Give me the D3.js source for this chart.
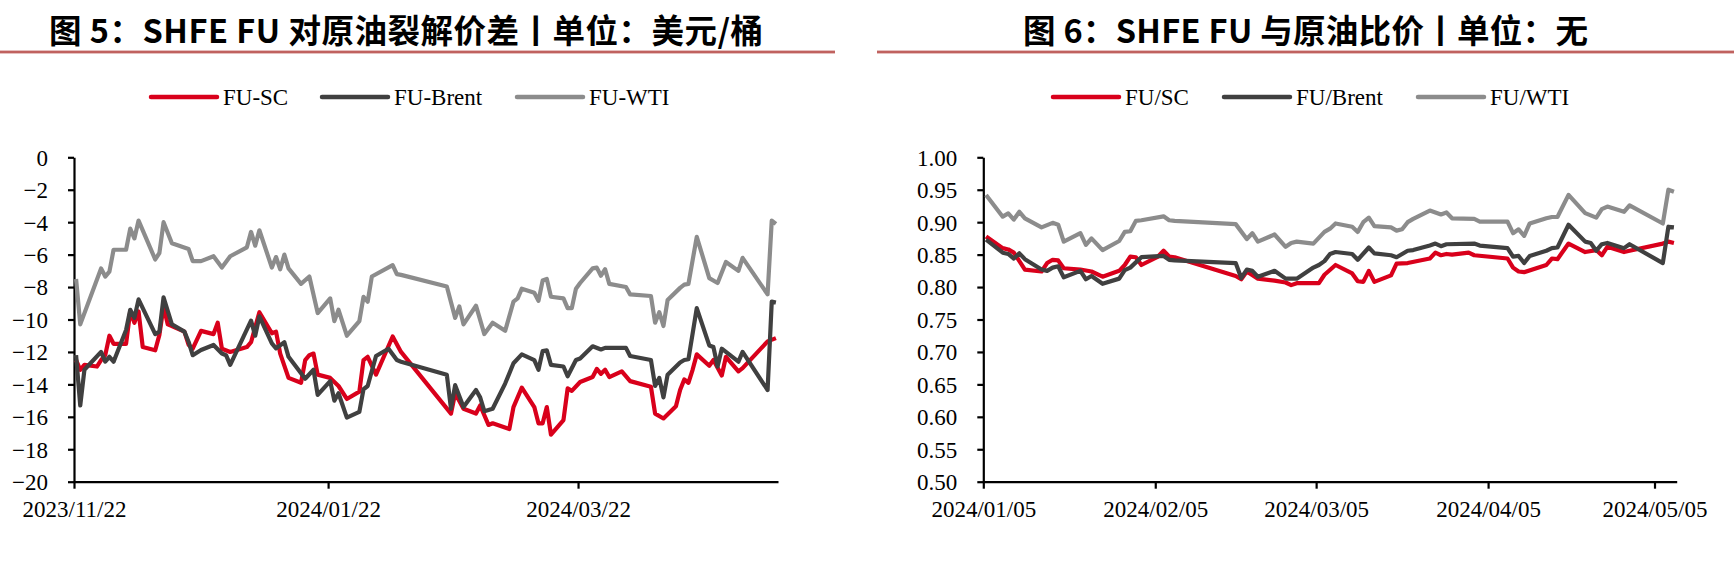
<!DOCTYPE html>
<html><head><meta charset="utf-8">
<script src="https://cdn.jsdelivr.net/npm/d3@7"></script>
<style>body{margin:0;background:#fff} svg{display:block}</style>
</head><body><svg id="c" width="1734" height="561"></svg>
<script>
// ---------- DATA ----------
const spreadTitle = "图 5：SHFE FU 对原油裂解价差丨单位：美元/桶";
const ratioTitle = "图 6：SHFE FU 与原油比价丨单位：无";
const spreadNames = ["FU-SC", "FU-Brent", "FU-WTI"];
const ratioNames = ["FU/SC", "FU/Brent", "FU/WTI"];
const spreadXTicks = ["2023-11-22", "2024-01-22", "2024-03-22"];
const ratioXTicks = ["2024-01-05", "2024-02-05", "2024-03-05", "2024-04-05", "2024-05-05"];
const spreadYTicks = [0, -2, -4, -6, -8, -10, -12, -14, -16, -18, -20];
const ratioYTicks = [1.00, 0.95, 0.90, 0.85, 0.80, 0.75, 0.70, 0.65, 0.60, 0.55, 0.50];
const spreadXRange = ["2023-11-22", "2024-05-09"];
const ratioXRange = ["2024-01-05", "2024-05-09"];

const fuSC = [
["2023-11-22",-12.5],["2023-11-23",-13.1],["2023-11-24",-12.8],["2023-11-27",-12.9],["2023-11-28",-12.5],["2023-11-29",-12.2],["2023-11-30",-11.0],["2023-12-01",-11.5],["2023-12-04",-11.5],["2023-12-05",-9.5],["2023-12-06",-10.2],["2023-12-07",-9.5],["2023-12-08",-11.7],["2023-12-11",-11.9],["2023-12-12",-10.95],["2023-12-13",-9.2],["2023-12-14",-10.3],["2023-12-15",-10.4],["2023-12-18",-10.75],["2023-12-19",-11.55],["2023-12-20",-11.8],["2023-12-22",-10.7],["2023-12-25",-10.9],["2023-12-26",-10.2],["2023-12-27",-11.8],["2023-12-29",-12.0],
["2024-01-02",-11.7],["2024-01-03",-11.4],["2024-01-05",-9.55],["2024-01-08",-10.85],["2024-01-09",-10.75],["2024-01-10",-12.1],["2024-01-12",-13.6],["2024-01-15",-13.9],["2024-01-16",-12.5],["2024-01-17",-12.2],["2024-01-18",-12.1],["2024-01-19",-13.4],["2024-01-22",-13.6],["2024-01-24",-14.1],["2024-01-26",-14.9],["2024-01-29",-14.45],["2024-01-30",-12.5],["2024-01-31",-12.3],
["2024-02-02",-13.4],["2024-02-06",-11.05],["2024-02-08",-12.0],["2024-02-20",-15.8],["2024-02-21",-14.55],["2024-02-23",-15.5],["2024-02-26",-15.8],["2024-02-27",-15.3],["2024-02-29",-16.5],
["2024-03-01",-16.4],["2024-03-05",-16.75],["2024-03-06",-15.4],["2024-03-08",-14.2],["2024-03-11",-15.4],["2024-03-12",-16.4],["2024-03-13",-16.4],["2024-03-14",-15.4],["2024-03-15",-17.1],["2024-03-18",-16.2],["2024-03-19",-14.25],["2024-03-20",-14.4],["2024-03-22",-13.85],["2024-03-25",-13.55],["2024-03-26",-13.05],["2024-03-27",-13.35],["2024-03-28",-13.1],["2024-03-29",-13.55],
["2024-04-01",-13.2],["2024-04-03",-13.8],["2024-04-08",-14.15],["2024-04-09",-15.8],["2024-04-11",-16.1],["2024-04-14",-15.35],["2024-04-15",-14.35],["2024-04-16",-13.7],["2024-04-17",-13.9],["2024-04-18",-13.1],["2024-04-19",-12.15],["2024-04-22",-12.85],["2024-04-23",-12.5],["2024-04-25",-13.45],["2024-04-26",-12.3],["2024-04-29",-13.2],["2024-04-30",-13.0],
["2024-05-06",-11.35],["2024-05-08",-11.15]
];
const fuBrent = [
["2023-11-22",-12.2],["2023-11-23",-15.3],["2023-11-24",-13.1],["2023-11-28",-12.0],["2023-11-29",-12.6],["2023-11-30",-12.3],["2023-12-01",-12.6],["2023-12-04",-10.65],["2023-12-05",-9.4],["2023-12-06",-9.9],["2023-12-07",-8.76],["2023-12-11",-10.9],["2023-12-12",-10.75],["2023-12-13",-8.63],["2023-12-15",-10.3],["2023-12-18",-10.75],["2023-12-19",-11.37],["2023-12-20",-12.2],["2023-12-22",-11.88],["2023-12-25",-11.57],["2023-12-27",-12.1],["2023-12-28",-12.2],["2023-12-29",-12.8],
["2024-01-03",-10.07],["2024-01-04",-11.0],["2024-01-05",-9.8],["2024-01-08",-11.47],["2024-01-09",-11.78],["2024-01-11",-11.4],["2024-01-12",-12.3],["2024-01-16",-13.65],["2024-01-18",-13.1],["2024-01-19",-14.65],["2024-01-22",-13.8],["2024-01-23",-15.0],["2024-01-24",-14.55],["2024-01-26",-16.05],["2024-01-29",-15.7],["2024-01-30",-14.3],["2024-01-31",-14.1],
["2024-02-02",-12.25],["2024-02-05",-11.8],["2024-02-07",-12.5],["2024-02-08",-12.6],["2024-02-19",-13.4],["2024-02-20",-15.5],["2024-02-21",-14.05],["2024-02-23",-15.4],["2024-02-26",-14.35],["2024-02-27",-14.8],["2024-02-28",-15.65],
["2024-03-01",-15.5],["2024-03-04",-13.95],["2024-03-06",-12.7],["2024-03-08",-12.15],["2024-03-11",-12.5],["2024-03-12",-13.1],["2024-03-13",-11.95],["2024-03-14",-11.9],["2024-03-15",-12.8],["2024-03-18",-12.9],["2024-03-19",-13.5],["2024-03-21",-12.5],["2024-03-22",-12.4],["2024-03-25",-11.65],["2024-03-27",-11.85],["2024-03-28",-11.75],
["2024-04-02",-11.75],["2024-04-03",-12.25],["2024-04-08",-12.5],["2024-04-09",-14.1],["2024-04-10",-13.6],["2024-04-11",-14.8],["2024-04-12",-13.4],["2024-04-15",-12.65],["2024-04-16",-12.5],["2024-04-17",-12.45],["2024-04-19",-9.3],["2024-04-22",-11.6],["2024-04-23",-11.7],["2024-04-24",-12.9],["2024-04-25",-11.8],["2024-04-29",-12.6],["2024-04-30",-12.0],
["2024-05-06",-14.35],["2024-05-07",-8.9],["2024-05-08",-8.95]
];
const fuWTI = [
["2023-11-22",-7.5],["2023-11-23",-10.3],["2023-11-28",-6.85],["2023-11-29",-7.35],["2023-11-30",-7.05],["2023-12-01",-5.7],["2023-12-04",-5.7],["2023-12-05",-4.4],["2023-12-06",-5.0],["2023-12-07",-3.9],["2023-12-11",-6.3],["2023-12-12",-5.9],["2023-12-13",-4.0],["2023-12-15",-5.3],["2023-12-19",-5.65],["2023-12-20",-6.4],["2023-12-22",-6.4],["2023-12-25",-6.1],["2023-12-27",-6.8],["2023-12-29",-6.1],
["2024-01-02",-5.55],["2024-01-03",-4.6],["2024-01-04",-5.45],["2024-01-05",-4.5],["2024-01-08",-6.8],["2024-01-09",-6.15],["2024-01-10",-6.9],["2024-01-11",-6.0],["2024-01-12",-6.85],["2024-01-15",-7.8],["2024-01-17",-7.35],["2024-01-19",-9.6],["2024-01-22",-8.7],["2024-01-23",-10.1],["2024-01-24",-9.4],["2024-01-26",-11.0],["2024-01-29",-10.1],["2024-01-30",-8.6],["2024-01-31",-8.9],
["2024-02-01",-7.35],["2024-02-06",-6.65],["2024-02-07",-7.2],["2024-02-08",-7.25],["2024-02-19",-7.97],["2024-02-21",-9.9],["2024-02-22",-9.2],["2024-02-23",-10.3],["2024-02-26",-9.15],["2024-02-28",-10.9],
["2024-03-01",-10.2],["2024-03-04",-10.7],["2024-03-06",-8.9],["2024-03-07",-8.7],["2024-03-08",-8.1],["2024-03-11",-8.35],["2024-03-12",-8.85],["2024-03-13",-7.6],["2024-03-14",-7.5],["2024-03-15",-8.6],["2024-03-18",-8.7],["2024-03-19",-9.3],["2024-03-20",-9.3],["2024-03-21",-8.1],["2024-03-22",-7.75],["2024-03-25",-6.85],["2024-03-26",-6.8],["2024-03-27",-7.3],["2024-03-28",-6.9],["2024-03-29",-7.8],
["2024-04-02",-8.0],["2024-04-03",-8.45],["2024-04-08",-8.55],["2024-04-09",-10.2],["2024-04-10",-9.55],["2024-04-11",-10.4],["2024-04-12",-8.8],["2024-04-15",-8.05],["2024-04-16",-7.85],["2024-04-17",-7.8],["2024-04-19",-4.9],["2024-04-22",-7.45],["2024-04-24",-7.75],["2024-04-26",-6.45],["2024-04-29",-7.0],["2024-04-30",-6.2],
["2024-05-06",-8.45],["2024-05-07",-3.9],["2024-05-08",-4.1]
];

const ratioSC = [
["2024-01-05",0.878],["2024-01-08",0.86],["2024-01-09",0.858],["2024-01-10",0.853],["2024-01-12",0.827],["2024-01-15",0.824],["2024-01-16",0.837],["2024-01-17",0.842],["2024-01-18",0.841],["2024-01-19",0.829],["2024-01-22",0.827],["2024-01-24",0.824],["2024-01-26",0.816],["2024-01-29",0.825],["2024-01-30",0.834],["2024-01-31",0.847],
["2024-02-01",0.846],["2024-02-02",0.834],["2024-02-05",0.847],["2024-02-06",0.856],["2024-02-07",0.847],["2024-02-08",0.846],["2024-02-19",0.817],["2024-02-20",0.812],["2024-02-21",0.824],["2024-02-23",0.813],["2024-02-26",0.81],["2024-02-28",0.807],["2024-02-29",0.803],
["2024-03-01",0.806],["2024-03-05",0.806],["2024-03-06",0.819],["2024-03-08",0.834],["2024-03-11",0.821],["2024-03-12",0.809],["2024-03-13",0.808],["2024-03-14",0.825],["2024-03-15",0.808],["2024-03-18",0.818],["2024-03-19",0.836],["2024-03-21",0.837],["2024-03-25",0.844],["2024-03-26",0.853],["2024-03-27",0.849],["2024-03-28",0.851],["2024-03-29",0.85],
["2024-04-01",0.853],["2024-04-02",0.849],["2024-04-08",0.844],["2024-04-09",0.83],["2024-04-10",0.824],["2024-04-11",0.823],["2024-04-15",0.834],["2024-04-16",0.844],["2024-04-17",0.843],["2024-04-19",0.867],["2024-04-22",0.854],["2024-04-24",0.857],["2024-04-25",0.849],["2024-04-26",0.862],["2024-04-29",0.854],["2024-04-30",0.856],
["2024-05-06",0.867],["2024-05-07",0.87],["2024-05-08",0.868]
];
const ratioBrent = [
["2024-01-05",0.873],["2024-01-08",0.853],["2024-01-09",0.851],["2024-01-10",0.844],["2024-01-11",0.852],["2024-01-12",0.843],["2024-01-15",0.827],["2024-01-16",0.825],["2024-01-17",0.83],["2024-01-18",0.832],["2024-01-19",0.815],["2024-01-22",0.825],["2024-01-23",0.812],["2024-01-24",0.817],["2024-01-26",0.805],["2024-01-29",0.813],["2024-01-30",0.826],["2024-01-31",0.83],
["2024-02-01",0.838],["2024-02-02",0.846],["2024-02-06",0.848],["2024-02-07",0.842],["2024-02-08",0.841],["2024-02-19",0.837],["2024-02-20",0.814],["2024-02-21",0.827],["2024-02-22",0.825],["2024-02-23",0.816],["2024-02-26",0.825],["2024-02-28",0.813],
["2024-03-01",0.813],["2024-03-04",0.83],["2024-03-05",0.834],["2024-03-06",0.84],["2024-03-07",0.851],["2024-03-08",0.854],["2024-03-11",0.851],["2024-03-12",0.842],["2024-03-14",0.861],["2024-03-15",0.852],["2024-03-18",0.849],["2024-03-19",0.846],["2024-03-21",0.856],["2024-03-22",0.857],["2024-03-25",0.864],["2024-03-26",0.867],["2024-03-27",0.863],["2024-03-28",0.866],
["2024-04-02",0.867],["2024-04-03",0.864],["2024-04-08",0.86],["2024-04-09",0.847],["2024-04-10",0.848],["2024-04-11",0.837],["2024-04-12",0.848],["2024-04-15",0.856],["2024-04-16",0.86],["2024-04-17",0.861],["2024-04-19",0.896],["2024-04-22",0.87],["2024-04-23",0.868],["2024-04-24",0.856],["2024-04-25",0.866],["2024-04-26",0.868],["2024-04-29",0.86],["2024-04-30",0.866],
["2024-05-06",0.837],["2024-05-07",0.893],["2024-05-08",0.892]
];
const ratioWTI = [
["2024-01-05",0.942],["2024-01-08",0.9085],["2024-01-09",0.9135],["2024-01-10",0.904],["2024-01-11",0.916],["2024-01-12",0.906],["2024-01-15",0.892],["2024-01-17",0.899],["2024-01-18",0.896],["2024-01-19",0.87],["2024-01-22",0.883],["2024-01-23",0.865],["2024-01-24",0.875],["2024-01-26",0.857],["2024-01-29",0.871],["2024-01-30",0.885],["2024-01-31",0.886],
["2024-02-01",0.902],["2024-02-02",0.903],["2024-02-06",0.909],["2024-02-07",0.903],["2024-02-08",0.902],["2024-02-19",0.897],["2024-02-21",0.874],["2024-02-22",0.883],["2024-02-23",0.87],["2024-02-26",0.881],["2024-02-28",0.862],["2024-02-29",0.868],
["2024-03-01",0.87],["2024-03-04",0.867],["2024-03-06",0.885],["2024-03-07",0.89],["2024-03-08",0.898],["2024-03-11",0.893],["2024-03-12",0.885],["2024-03-13",0.9],["2024-03-14",0.907],["2024-03-15",0.894],["2024-03-18",0.892],["2024-03-19",0.887],["2024-03-20",0.889],["2024-03-21",0.9],["2024-03-22",0.905],["2024-03-25",0.918],["2024-03-27",0.912],["2024-03-28",0.915],["2024-03-29",0.906],
["2024-04-02",0.905],["2024-04-03",0.901],["2024-04-08",0.901],["2024-04-09",0.883],["2024-04-10",0.889],["2024-04-11",0.879],["2024-04-12",0.898],["2024-04-15",0.906],["2024-04-16",0.908],["2024-04-17",0.908],["2024-04-19",0.942],["2024-04-22",0.914],["2024-04-24",0.907],["2024-04-25",0.92],["2024-04-26",0.924],["2024-04-29",0.916],["2024-04-30",0.926],
["2024-05-06",0.898],["2024-05-07",0.95],["2024-05-08",0.947]
];

const seriesColors = ["#d9001b", "#404040", "#8c8c8c"];

// ---------- DRAWING ----------
const parse = d3.timeParse("%Y-%m-%d");
const fmtDate = d3.timeFormat("%Y/%m/%d");
const svg = d3.select("#c");
svg.append("rect").attr("width",1734).attr("height",561).attr("fill","#fff");

function drawPanel(cfg) {
  const g = svg.append("g");
  // title
  g.append("text").attr("x", cfg.titleX).attr("y", 43)
    .attr("font-family", "'Noto Sans CJK SC', sans-serif").attr("font-weight", 700)
    .attr("font-size", 32.5).attr("fill", "#000")
    .attr("textLength", cfg.titleW).attr("lengthAdjust", "spacing")
    .text(cfg.title);
  g.append("rect").attr("x", cfg.ruleX0).attr("y", 50.6).attr("width", cfg.ruleX1 - cfg.ruleX0)
    .attr("height", 2.8).attr("fill", "#c0625f");

  // legend
  cfg.names.forEach((n, i) => {
    const lx = cfg.legendX[i];
    g.append("line").attr("x1", lx).attr("x2", lx + 66).attr("y1", 97).attr("y2", 97)
      .attr("stroke", seriesColors[i]).attr("stroke-width", 4.5).attr("stroke-linecap", "round");
    g.append("text").attr("x", lx + 72).attr("y", 105)
      .attr("font-family", "'Liberation Serif', 'Times New Roman', serif").attr("font-size", 23)
      .attr("fill", "#000").text(n);
  });

  const x = d3.scaleTime().domain(cfg.xRange.map(parse)).range([cfg.left, cfg.right]);
  const y = d3.scaleLinear().domain(cfg.yDomain).range([481.7, 157.3]);

  // y axis
  const ya = g.append("g").attr("transform", `translate(${cfg.left},0)`)
    .call(d3.axisLeft(y).tickValues(cfg.yTicks).tickSize(6).tickSizeOuter(0).tickPadding(20)
      .tickFormat(cfg.yFmt));
  // x axis
  const xa = g.append("g").attr("transform", `translate(0,481.7)`)
    .call(d3.axisBottom(x).tickValues(cfg.xTicks.map(parse)).tickSize(7).tickSizeOuter(0)
      .tickFormat(fmtDate));
  [ya, xa].forEach(a => {
    a.select(".domain").attr("stroke", "#000").attr("stroke-width", 2.2);
    a.selectAll(".tick line").attr("stroke", "#000").attr("stroke-width", 2.2);
    a.selectAll("text").attr("font-family", "'Liberation Serif', 'Times New Roman', serif")
      .attr("font-size", 23).attr("fill", "#000");
  });
  xa.selectAll("text").attr("y", 35).attr("dy", 0);
  ya.selectAll("text").attr("dy", "0.34em");

  // lines
  const line = d3.line()
    .x(d => x(d3.timeHour.offset(parse(d[0]), 12)))
    .y(d => y(d[1]));
  cfg.series.forEach((s, i) => {
    g.append("path").datum(s).attr("d", line).attr("fill", "none")
      .attr("stroke", seriesColors[i]).attr("stroke-width", 4.2)
      .attr("stroke-linejoin", "round").attr("stroke-linecap", "butt");
  });
}

drawPanel({
  title: spreadTitle, titleX: 49, titleW: 714, ruleX0: 0, ruleX1: 835,
  names: spreadNames, legendX: [151, 322, 517],
  xRange: spreadXRange, xTicks: spreadXTicks, left: 74, right: 778,
  yDomain: [-20, 0], yTicks: spreadYTicks, yFmt: d3.format("d"),
  series: [fuSC, fuBrent, fuWTI]
});
drawPanel({
  title: ratioTitle, titleX: 1023, titleW: 565, ruleX0: 877, ruleX1: 1734,
  names: ratioNames, legendX: [1053, 1224, 1418],
  xRange: ratioXRange, xTicks: ratioXTicks, left: 983.3, right: 1676.7,
  yDomain: [0.5, 1.0], yTicks: ratioYTicks, yFmt: d3.format(".2f"),
  series: [ratioSC, ratioBrent, ratioWTI]
});
</script></body></html>
